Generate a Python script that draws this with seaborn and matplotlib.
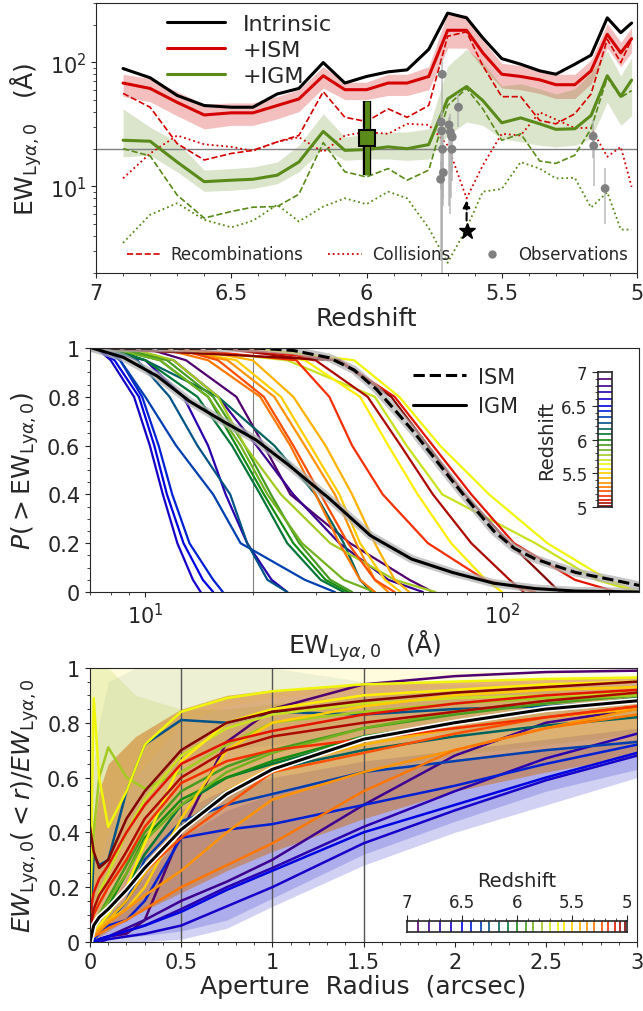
import matplotlib
matplotlib.use("Agg")
import matplotlib.pyplot as plt
import matplotlib.ticker as mticker
from matplotlib.colors import LinearSegmentedColormap
from matplotlib.lines import Line2D
import seaborn as sns

# ---------------- data ----------------
# snapshot redshifts (shared by all panels)
redshift = [6.90, 6.80, 6.70, 6.60, 6.50, 6.42, 6.33, 6.25, 6.16, 6.08, 6.00, 5.92, 5.85,
            5.77, 5.70, 5.63, 5.57, 5.50, 5.43, 5.36, 5.30, 5.23, 5.17, 5.11, 5.06, 5.02]

# top panel: median EW per snapshot
ew_intrinsic = [89, 75, 54, 44.8, 43.4, 43.4, 55.5, 61.5, 99.4, 68, 76.8, 83.7, 86.8,
                127, 249, 228, 157, 107, 96.4, 85.3, 80.1, 96.4, 114, 228, 173, 207]
ew_ism = [68, 61.5, 47.5, 37.6, 39.1, 39.1, 44.8, 50.6, 77.8, 60.1, 60.1, 68, 68,
          76.8, 181, 181, 119, 80.1, 76.8, 72.2, 65.9, 65.9, 85.3, 168, 119, 155]
ism_lo = [53, 48, 37, 29, 31, 31, 35, 40, 62, 50, 50, 54, 54,
          60, 130, 130, 90, 62, 60, 56, 51, 51, 67, 130, 92, 120]
ism_hi = [80, 74, 58, 46, 47, 47, 53, 60, 92, 69, 69, 80, 80,
          92, 250, 240, 150, 98, 94, 88, 80, 80, 104, 205, 145, 190]
ew_igm = [23.5, 23.1, 15.7, 10.9, 11.2, 11.4, 12.3, 15.7, 27.7, 19.5, 19.8, 20.8, 20.1,
          21.7, 50.6, 63.8, 49.1, 32.5, 35.6, 31.9, 28.8, 29.1, 37.2, 77.8, 53.1, 71.8]
igm_lo = [17.3, 17.8, 13.1, 9.1, 9.3, 9.6, 10.5, 13.1, 20.1, 16.2, 16.6, 16.6, 16.2,
          16.6, 25.7, 33, 31, 24.2, 22.8, 21.4, 20.8, 21.4, 24.2, 47.5, 31, 37]
igm_hi = [42, 30, 22.8, 13.5, 13.9, 14.3, 15.7, 21.4, 38.4, 24.9, 26.5, 27.4, 27.4,
          29.1, 93, 127, 100, 64.5, 67, 61, 55.5, 61, 82.6, 123, 77.6, 109]
rec_ism = [56.1, 43.4, 22.1, 16.3, 18.4, 19.5, 22.8, 25.7, 57.9, 36.0, 33.3, 42.1, 36.0,
           44.8, 162, 176, 93.5, 52.8, 52.8, 34.0, 31.9, 38.4, 55.5, 153, 99.4, 153]
col_ism = [11.6, 18.4, 25.7, 21.8, 20.8, 19.3, 22.8, 24.9, 18.9, 25.7, 27.4, 26.5, 31.9,
           31.3, 21.4, 8.0, 14.8, 26.5, 25.7, 39.5, 34.6, 29.5, 29.6, 17.3, 20.8, 9.9]
rec_igm = [20.1, 17.6, 8.5, 5.55, 6.27, 6.79, 6.87, 8.63, 22.5, 13.1, 11.9, 13.9, 11.2,
           13.5, 44.8, 61.5, 42.1, 23.5, 26.5, 16.0, 15.3, 17.8, 29.1, 75.3, 52.1, 59.0]
col_igm = [3.50, 5.90, 7.31, 5.38, 4.67, 5.28, 7.10, 5.21, 6.87, 8.01, 7.18, 9.06, 8.01,
           4.61, 2.42, 4.61, 9.06, 9.52, 15.7, 13.9, 11.6, 11.7, 6.75, 8.95, 4.48, 4.48]

obs_z = [5.720, 5.724, 5.722, 5.719, 5.716, 5.726, 5.695, 5.690, 5.686, 5.683, 5.684, 5.660,
         5.162, 5.160, 5.118]
obs_ew = [80, 33, 28, 19.9, 12.9, 11.4, 31.3, 27.4, 25.5, 25.0, 19.9, 43.4, 25.3, 21.2, 9.6]
obs_lo = [2.0, 9.5, 3.0, 8.0, 7.0, 2.5, 7.0, 6.0, 8.0, 11, 13, 30, 17, 10, 5.0]
obs_hi = [105, 40, 36, 28, 20, 16, 36, 38, 32, 30, 24, 56, 34, 27, 14]

stack_z, stack_ew, stack_lo, stack_hi = 6.0, 24.5, 12.3, 49.0
star_z, star_ew, arrow_tail, arrow_tip = 5.63, 4.36, 5.3, 7.7

# middle panel: EW at fixed cumulative probability levels
p_levels = [1.0, 0.95, 0.8, 0.6, 0.4, 0.2, 0.05, 0.0]
cdf_ew = [
    [10, 13, 18, 21.5, 25.5, 37.5, 55, 64],
    [8, 12, 16, 20.5, 26, 35, 48, 60],
    [7.2, 10, 12.8, 15, 16.8, 19.3, 22.6, 25],
    [7.3, 8, 9.3, 10.3, 11.2, 12.3, 13.6, 14.3],
    [7.2, 8.2, 9.6, 10.6, 11.5, 12.8, 14.5, 15.5],
    [7.5, 8.5, 9.8, 10.9, 11.9, 13.3, 15.5, 16.5],
    [7.5, 8.5, 10, 12.2, 15.5, 18.5, 28, 34],
    [8, 9.5, 11.7, 14, 17.3, 19.3, 22, 25],
    [7.5, 10, 16, 23, 30, 36, 40, 43],
    [8, 10, 14, 17.5, 21, 25, 31, 36],
    [8, 11, 15, 18, 21.5, 26, 32, 37],
    [8.5, 11.5, 15.5, 19, 22.5, 27, 33, 38],
    [8, 11, 15, 18.5, 22, 27.5, 36, 44],
    [9, 12, 16, 19, 24, 33, 50, 65],
    [12, 25, 44, 54, 68, 124, 184, 240],
    [20, 38.5, 51.5, 67, 92, 134, 198, 240],
    [18, 28, 40, 48, 58, 72, 90, 100],
    [12, 18, 24, 29, 35, 40, 47, 52],
    [13, 20, 26, 32, 38, 44, 50, 55],
    [12, 17, 23, 28, 34, 39, 44, 48],
    [11, 15, 21, 25.5, 30, 35, 40, 44],
    [12, 16, 21.5, 26, 31, 37, 44, 50],
    [12, 26.5, 32.8, 38, 46.3, 62, 89.6, 124],
    [17, 35, 50, 64, 82, 108, 160, 210],
    [16, 30, 42, 52, 64, 82, 105, 115],
    [7, 34.6, 48.9, 62, 78.5, 105, 134, 145],
]
igm_all_ew = [7.1, 8.7, 10.8, 13.3, 16.5, 20.4, 25.2, 32.8, 42.8, 55.8, 72.7, 94.8, 124, 161, 246]
igm_all_p = [1.0, 0.961, 0.885, 0.782, 0.700, 0.624, 0.521, 0.383, 0.231, 0.135, 0.080,
             0.036, 0.014, 0.004, 0.0]
ism_all_ew = [7.1, 21, 26, 32.8, 38.5, 44.5, 50.5, 57, 64.5, 73, 83, 94.8, 108, 124, 161, 210, 246]
ism_all_p = [1.0, 0.999, 0.99, 0.96, 0.91, 0.83, 0.74, 0.65, 0.55, 0.45, 0.35, 0.25, 0.18,
             0.135, 0.08, 0.046, 0.025]

# bottom panel: enclosed EW fraction vs aperture radius
radius = [0, 0.02, 0.05, 0.1, 0.2, 0.3, 0.5, 0.75, 1.0, 1.5, 2.0, 2.5, 3.0]
frac = [
    [0, 0.0, 0.01, 0.02, 0.03, 0.08, 0.40, 0.73, 0.85, 0.94, 0.97, 0.985, 0.99],
    [0, 0, 0.01, 0.02, 0.05, 0.08, 0.15, 0.22, 0.30, 0.50, 0.68, 0.80, 0.85],
    [0, 0, 0.01, 0.02, 0.04, 0.06, 0.12, 0.20, 0.27, 0.42, 0.55, 0.67, 0.76],
    [0, 0, 0.0, 0.01, 0.02, 0.03, 0.06, 0.13, 0.20, 0.36, 0.48, 0.59, 0.68],
    [0, 0, 0.01, 0.02, 0.04, 0.06, 0.11, 0.19, 0.26, 0.40, 0.50, 0.60, 0.69],
    [0, 0.01, 0.03, 0.06, 0.08, 0.15, 0.38, 0.41, 0.43, 0.50, 0.57, 0.65, 0.72],
    [0, 0.02, 0.04, 0.07, 0.15, 0.30, 0.44, 0.50, 0.54, 0.62, 0.66, 0.70, 0.73],
    [0, 0.32, 0.28, 0.30, 0.55, 0.72, 0.81, 0.80, 0.84, 0.83, 0.85, 0.86, 0.88],
    [0, 0.02, 0.04, 0.08, 0.15, 0.25, 0.42, 0.55, 0.63, 0.70, 0.75, 0.79, 0.82],
    [0, 0.03, 0.06, 0.10, 0.20, 0.32, 0.50, 0.60, 0.65, 0.74, 0.80, 0.85, 0.89],
    [0, 0.04, 0.08, 0.13, 0.25, 0.38, 0.52, 0.60, 0.66, 0.75, 0.80, 0.85, 0.88],
    [0, 0.05, 0.10, 0.16, 0.28, 0.40, 0.55, 0.64, 0.70, 0.78, 0.83, 0.87, 0.90],
    [0, 0.05, 0.10, 0.15, 0.25, 0.37, 0.50, 0.62, 0.69, 0.78, 0.84, 0.88, 0.90],
    [0.15, 0.40, 0.60, 0.71, 0.60, 0.56, 0.62, 0.72, 0.80, 0.84, 0.87, 0.89, 0.90],
    [0.02, 0.10, 0.18, 0.25, 0.40, 0.52, 0.68, 0.78, 0.83, 0.87, 0.89, 0.90, 0.91],
    [0.10, 0.89, 0.60, 0.42, 0.55, 0.72, 0.84, 0.89, 0.915, 0.94, 0.95, 0.96, 0.965],
    [0.01, 0.03, 0.06, 0.10, 0.20, 0.36, 0.66, 0.80, 0.85, 0.90, 0.92, 0.94, 0.95],
    [0.01, 0.03, 0.05, 0.08, 0.12, 0.20, 0.45, 0.70, 0.80, 0.86, 0.90, 0.92, 0.93],
    [0.01, 0.03, 0.05, 0.08, 0.15, 0.25, 0.40, 0.55, 0.64, 0.72, 0.78, 0.82, 0.85],
    [0.01, 0.02, 0.04, 0.07, 0.12, 0.17, 0.26, 0.40, 0.52, 0.62, 0.70, 0.78, 0.85],
    [0.01, 0.02, 0.03, 0.05, 0.08, 0.12, 0.20, 0.28, 0.36, 0.55, 0.70, 0.78, 0.83],
    [0.02, 0.05, 0.08, 0.12, 0.20, 0.26, 0.38, 0.50, 0.62, 0.69, 0.76, 0.82, 0.86],
    [0.05, 0.10, 0.14, 0.20, 0.30, 0.42, 0.58, 0.66, 0.70, 0.74, 0.78, 0.82, 0.86],
    [0.10, 0.18, 0.23, 0.28, 0.40, 0.50, 0.65, 0.73, 0.77, 0.83, 0.87, 0.90, 0.92],
    [0.05, 0.12, 0.17, 0.22, 0.33, 0.45, 0.60, 0.70, 0.75, 0.80, 0.84, 0.88, 0.91],
    [0.42, 0.33, 0.27, 0.30, 0.45, 0.55, 0.70, 0.80, 0.84, 0.88, 0.91, 0.93, 0.95],
]
frac_mean = [0, 0.06, 0.09, 0.12, 0.19, 0.27, 0.41, 0.54, 0.63, 0.74, 0.80, 0.85, 0.88]

band_r = [0, 0.05, 0.1, 0.25, 0.5, 0.75, 1.0, 1.5, 2.0, 2.5, 3.0]
blue_lo = [0, 0, 0, 0.0, 0.01, 0.05, 0.13, 0.28, 0.40, 0.50, 0.60]
blue_hi = [0.04, 0.08, 0.12, 0.3, 0.48, 0.56, 0.6, 0.66, 0.7, 0.74, 0.78]
blue_in_lo = [0, 0, 0.01, 0.02, 0.04, 0.08, 0.16, 0.32, 0.44, 0.55, 0.63]
blue_in_hi = [0.02, 0.05, 0.08, 0.2, 0.38, 0.48, 0.54, 0.62, 0.66, 0.7, 0.74]
orange_lo = [0.0, 0.02, 0.04, 0.1, 0.18, 0.26, 0.33, 0.45, 0.55, 0.62, 0.68]
orange_hi = [0.3, 0.55, 0.65, 0.75, 0.85, 0.9, 0.92, 0.94, 0.95, 0.96, 0.97]
yellow_lo = [0.1, 0.3, 0.4, 0.6, 0.8, 0.86, 0.89, 0.92, 0.93, 0.94, 0.95]
yellow_hi = [1, 1, 1, 1, 1, 1, 1, 1, 0.99, 0.985, 0.98]
teal_lo = [0.1, 0.2, 0.25, 0.45, 0.65, 0.7, 0.72, 0.74, 0.77, 0.8, 0.82]
teal_hi = [0.55, 0.8, 0.95, 1, 1, 1, 1, 0.95, 0.94, 0.94, 0.95]
green_lo = [0.0, 0.1, 0.2, 0.3, 0.4, 0.5, 0.55, 0.62, 0.68, 0.72, 0.76]
green_hi = [1, 1, 1, 0.9, 0.85, 0.85, 0.87, 0.9, 0.92, 0.93, 0.94]

# ---------------- style ----------------
sns.set_style("ticks")
plt.rcParams["font.family"] = ["DejaVu Sans"]
plt.rcParams["mathtext.fontset"] = "dejavusans"

zcmap = LinearSegmentedColormap.from_list("zmap", [
    "#3d0048", "#500070", "#3a0090", "#2800b0", "#1400c8", "#0000e0", "#0028d0",
    "#004aa0", "#005a70", "#007040", "#138a13", "#50a020", "#90c020", "#c8e020",
    "#ffff00", "#ffd000", "#ffa500", "#ff7800", "#ff4000", "#e01000", "#700000"])


def zcolor(z):
    return zcmap((7.0 - z) / 2.0)


red = "#d40000"
green = "#5a8a1a"
fmt_g = mticker.FuncFormatter(lambda v, p: "{:g}".format(v))

fig = plt.figure(figsize=(6.43, 10.12), dpi=100)
ax1 = fig.add_axes([0.1493, 0.7292, 0.8414, 0.2668])
ax2 = fig.add_axes([0.1400, 0.4140, 0.8538, 0.2411])
ax3 = fig.add_axes([0.1400, 0.0682, 0.8507, 0.2708])

# ---------------- top panel ----------------
ax1.fill_between(redshift, ism_lo, ism_hi, color=red, alpha=0.25, lw=0)
ax1.fill_between(redshift, igm_lo, igm_hi, color=green, alpha=0.22, lw=0)
ax1.axhline(20, color="gray", lw=1)
sns.lineplot(x=redshift, y=rec_ism, color=red, ls="--", lw=1.2, sort=False, estimator=None, ax=ax1)
sns.lineplot(x=redshift, y=col_ism, color=red, ls=":", lw=1.3, sort=False, estimator=None, ax=ax1)
sns.lineplot(x=redshift, y=rec_igm, color=green, ls="--", lw=1.2, sort=False, estimator=None, ax=ax1)
sns.lineplot(x=redshift, y=col_igm, color=green, ls=":", lw=1.3, sort=False, estimator=None, ax=ax1)
sns.lineplot(x=redshift, y=ew_intrinsic, color="black", lw=2.2, sort=False, estimator=None, ax=ax1)
sns.lineplot(x=redshift, y=ew_ism, color=red, lw=2.2, sort=False, estimator=None, ax=ax1)
sns.lineplot(x=redshift, y=ew_igm, color=green, lw=2.2, sort=False, estimator=None, ax=ax1)

yerr = [[e - l for e, l in zip(obs_ew, obs_lo)], [h - e for e, h in zip(obs_ew, obs_hi)]]
ax1.errorbar(obs_z, obs_ew, yerr=yerr, fmt="none", ecolor="#b0b0b0", elinewidth=1.2, alpha=0.8)
sns.scatterplot(x=obs_z, y=obs_ew, color="gray", s=40, edgecolor="none", ax=ax1, zorder=5)

ax1.plot([stack_z, stack_z], [stack_lo, stack_hi], color="black", lw=6, solid_capstyle="butt", zorder=6)
ax1.plot([stack_z, stack_z], [stack_lo, stack_hi], color=green, lw=3.5, solid_capstyle="butt", zorder=7)
ax1.plot([stack_z], [stack_ew], marker="s", ms=12, mfc=green, mec="black", mew=1.5, zorder=8)

ax1.plot([star_z], [star_ew], marker="*", ms=12, color="black", zorder=8)
ax1.annotate("", xy=(star_z, arrow_tip), xytext=(star_z, arrow_tail),
             arrowprops=dict(arrowstyle="-|>", color="black", lw=1.5, ls="--",
                             mutation_scale=10, shrinkA=0, shrinkB=0))

ax1.set_yscale("log")
ax1.set_xlim(7, 5)
ax1.set_ylim(2, 300)
ax1.xaxis.set_major_locator(mticker.MultipleLocator(0.5))
ax1.xaxis.set_minor_locator(mticker.MultipleLocator(0.1))
ax1.xaxis.set_major_formatter(fmt_g)
ax1.tick_params(labelsize=15)
ax1.set_xlabel("Redshift", fontsize=18, labelpad=2)
ax1.set_ylabel(r"$\mathrm{EW}_{\mathrm{Ly}\alpha,0}$   (Å)", fontsize=18, labelpad=4)

leg1 = ax1.legend(handles=[Line2D([], [], color="black", lw=2.2),
                           Line2D([], [], color=red, lw=2.2),
                           Line2D([], [], color=green, lw=2.2)],
                  labels=["Intrinsic", "+ISM", "+IGM"], loc="upper left",
                  bbox_to_anchor=(0.095, 1.035), frameon=False, fontsize=16,
                  handlelength=2.6, labelspacing=0.28, handletextpad=0.8)
ax1.add_artist(leg1)
ax1.legend(handles=[Line2D([], [], color=red, ls="--", lw=1.2),
                    Line2D([], [], color=red, ls=":", lw=1.3),
                    Line2D([], [], color="gray", ls="none", marker="o", ms=5)],
           labels=["Recombinations", "Collisions", "Observations"], loc="lower left",
           bbox_to_anchor=(0.03, -0.02), ncol=3, frameon=False, fontsize=12,
           handlelength=2.0, columnspacing=1.5, handletextpad=0.6)

# ---------------- middle panel ----------------
ax2.axvline(20, color="gray", lw=0.8)
for z, row in zip(redshift, cdf_ew):
    sns.lineplot(x=row, y=p_levels, color=zcolor(z), lw=1.6, sort=False, estimator=None, ax=ax2)
ax2.plot(ism_all_ew, ism_all_p, color="#b0b0b0", lw=6, alpha=0.7)
ax2.plot(ism_all_ew, ism_all_p, color="black", lw=2.2, ls="--")
ax2.plot(igm_all_ew, igm_all_p, color="#b0b0b0", lw=6, alpha=0.7)
ax2.plot(igm_all_ew, igm_all_p, color="black", lw=2.2)
ax2.set_xscale("log")
ax2.set_xlim(7, 242)
ax2.set_ylim(0, 1)
ax2.yaxis.set_major_locator(mticker.MultipleLocator(0.2))
ax2.yaxis.set_minor_locator(mticker.MultipleLocator(0.05))
ax2.yaxis.set_major_formatter(fmt_g)
ax2.tick_params(labelsize=15)
ax2.set_xlabel(r"$\mathrm{EW}_{\mathrm{Ly}\alpha,0}$   (Å)", fontsize=18, labelpad=0)
ax2.set_ylabel(r"$P(>\mathrm{EW}_{\mathrm{Ly}\alpha,0})$", fontsize=18, labelpad=4)
ax2.legend(handles=[Line2D([], [], color="black", lw=2.2, ls="--"),
                    Line2D([], [], color="black", lw=2.2)],
           labels=["ISM", "IGM"], loc="upper left", bbox_to_anchor=(0.555, 1.0),
           frameon=False, fontsize=15, handlelength=2.5, labelspacing=0.45,
           handletextpad=0.6)

cb1 = fig.add_axes([0.930, 0.498, 0.0218, 0.1334])
cb1.set_facecolor("white")
for z in redshift:
    cb1.axhline(z, color=zcolor(z), lw=1.2)
cb1.set_ylim(5, 7)
cb1.set_xlim(0, 1)
cb1.set_xticks([])
cb1.yaxis.set_major_locator(mticker.MultipleLocator(0.5))
cb1.yaxis.set_minor_locator(mticker.MultipleLocator(0.1))
cb1.yaxis.set_major_formatter(fmt_g)
cb1.tick_params(axis="y", labelsize=12, length=4)
cb1.tick_params(axis="y", which="minor", length=2)
cb1.set_ylabel("Redshift", fontsize=14, labelpad=4)
for s in cb1.spines.values():
    s.set_linewidth(1.2)

# ---------------- bottom panel ----------------
ax3.fill_between(band_r, green_lo, green_hi, color="#a8d040", alpha=0.22, lw=0)
ax3.fill_between(band_r, teal_lo, teal_hi, color="#5a8aa8", alpha=0.12, lw=0)
ax3.fill_between(band_r, yellow_lo, yellow_hi, color="#fff060", alpha=0.22, lw=0)
ax3.fill_between(band_r, blue_lo, blue_hi, color="#3030d0", alpha=0.22, lw=0)
ax3.fill_between(band_r, blue_in_lo, blue_in_hi, color="#3030d0", alpha=0.22, lw=0)
ax3.fill_between(band_r, orange_lo, orange_hi, color="#d07010", alpha=0.5, lw=0)
for xv in [0.5, 1.0, 1.5]:
    ax3.axvline(xv, color="#555555", lw=1)
for z, row in zip(redshift, frac):
    sns.lineplot(x=radius, y=row, color=zcolor(z), lw=1.8, sort=False, estimator=None, ax=ax3)
ax3.plot(radius, frac_mean, color="white", lw=4.5)
ax3.plot(radius, frac_mean, color="black", lw=2.2)
ax3.set_xlim(0, 3)
ax3.set_ylim(0, 1)
ax3.xaxis.set_major_locator(mticker.MultipleLocator(0.5))
ax3.xaxis.set_minor_locator(mticker.MultipleLocator(0.1))
ax3.yaxis.set_major_locator(mticker.MultipleLocator(0.2))
ax3.yaxis.set_minor_locator(mticker.MultipleLocator(0.05))
ax3.xaxis.set_major_formatter(fmt_g)
ax3.yaxis.set_major_formatter(fmt_g)
ax3.tick_params(labelsize=15)
ax3.set_xlabel("Aperture  Radius  (arcsec)", fontsize=18, labelpad=2)
ax3.set_ylabel(r"$EW_{\mathrm{Ly}\alpha,0}(<r)/EW_{\mathrm{Ly}\alpha,0}$", fontsize=18, labelpad=4)

cb2 = fig.add_axes([0.633, 0.0781, 0.342, 0.0109])
cb2.set_facecolor("white")
for z in redshift:
    cb2.axvline(z, color=zcolor(z), lw=1.2)
cb2.set_xlim(7, 5)
cb2.set_ylim(0, 1)
cb2.set_yticks([])
cb2.xaxis.tick_top()
cb2.xaxis.set_label_position("top")
cb2.xaxis.set_major_locator(mticker.MultipleLocator(0.5))
cb2.xaxis.set_minor_locator(mticker.MultipleLocator(0.1))
cb2.xaxis.set_major_formatter(fmt_g)
cb2.tick_params(axis="x", labelsize=12, length=4)
cb2.tick_params(axis="x", which="minor", length=2)
cb2.set_xlabel("Redshift", fontsize=14, labelpad=5)
for s in cb2.spines.values():
    s.set_linewidth(1.2)

fig.savefig("out.png", dpi=100)
